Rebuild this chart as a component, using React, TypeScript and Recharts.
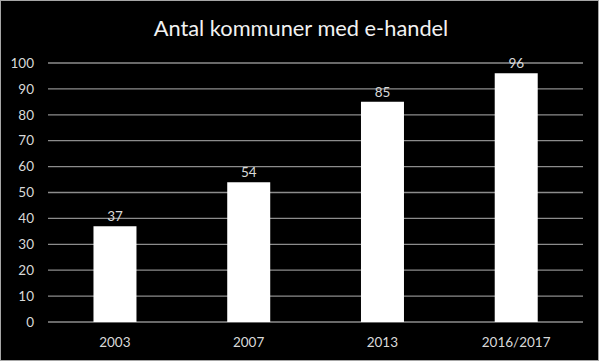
import React from "react";
import { BarChart, Bar, XAxis, YAxis, CartesianGrid, LabelList } from "recharts";

const categories = ["2003", "2007", "2013", "2016/2017"];
const values = [37, 54, 85, 96];
const yTicks = [0, 10, 20, 30, 40, 50, 60, 70, 80, 90, 100];
const title = "Antal kommuner med e-handel";

const data = categories.map((c, i) => ({ name: c, value: values[i] }));

const FONT = "Lato, 'Open Sans', sans-serif";

export default function App() {
  return (
    <div style={{ position: "absolute", left: 0, top: 0, width: 602, height: 362, background: "#ffffff" }}>
      <div
        style={{
          position: "absolute",
          left: 0,
          top: 0,
          width: 597,
          height: 359,
          background: "#000000",
          border: "1px solid #a6a6a6",
          overflow: "hidden",
        }}
      >
        <div
          style={{
            position: "absolute",
            left: 0,
            top: 13,
            width: 600,
            textAlign: "center",
            color: "#f2f2f2",
            fontFamily: FONT,
            fontSize: 21.8,
            lineHeight: "28px",
          }}
        >
          {title}
        </div>
        <div style={{ position: "absolute", left: -1, top: -1 }}>
          <BarChart
            width={602}
            height={362}
            data={data}
            margin={{ top: 63, right: 19, bottom: 0, left: 0 }}
            barCategoryGap="34%"
          >
            <CartesianGrid vertical={false} stroke="#8c8c8c" strokeWidth={1.3} />
            <XAxis
              dataKey="name"
              axisLine={false}
              tickLine={false}
              height={40}
              tickMargin={9}
              tick={{ fill: "#d9d9d9", fontSize: 13.5, fontFamily: FONT }}
            />
            <YAxis
              domain={[0, 100]}
              ticks={yTicks}
              interval={0}
              axisLine={false}
              tickLine={false}
              width={48}
              tickMargin={8}
              tick={{ fill: "#d9d9d9", fontSize: 13.5, fontFamily: FONT }}
            />
            <Bar dataKey="value" fill="#ffffff" isAnimationActive={false}>
              <LabelList
                dataKey="value"
                position="top"
                offset={5}
                fill="#d9d9d9"
                fontSize={13.5}
                fontFamily={FONT}
              />
            </Bar>
          </BarChart>
        </div>
      </div>
    </div>
  );
}
